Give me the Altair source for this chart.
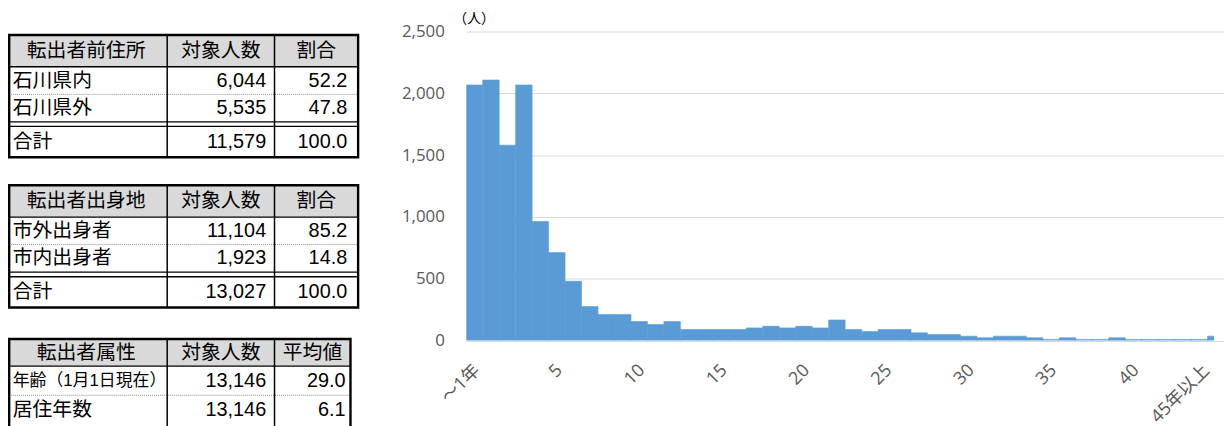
import altair as alt
import pandas as pd

# ---------------- data ----------------
years = ["～1年", "1", "2", "3", "4", "5", "6", "7", "8", "9", "10",
         "11", "12", "13", "14", "15", "16", "17", "18", "19", "20",
         "21", "22", "23", "24", "25", "26", "27", "28", "29", "30",
         "31", "32", "33", "34", "35", "36", "37", "38", "39", "40",
         "41", "42", "43", "44", "45年以上"]
counts = [2068, 2108, 1581, 2068, 964, 712, 480, 276, 212, 212,
          154, 130, 154, 90, 90, 90, 90, 103, 116, 103,
          116, 103, 167, 90, 74, 90, 90, 63, 50, 50,
          36, 23, 36, 36, 23, 10, 23, 10, 10, 23,
          10, 10, 10, 10, 10, 36]
y_ticks = [0, 500, 1000, 1500, 2000, 2500]
x_label_values = ["～1年", "5", "10", "15", "20", "25", "30", "35", "40", "45年以上"]
unit_label = "（人）"

t1_header = ["転出者前住所", "対象人数", "割合"]
t1_names = ["石川県内", "石川県外", "合計"]
t1_counts = ["6,044", "5,535", "11,579"]
t1_shares = ["52.2", "47.8", "100.0"]

t2_header = ["転出者出身地", "対象人数", "割合"]
t2_names = ["市外出身者", "市内出身者", "合計"]
t2_counts = ["11,104", "1,923", "13,027"]
t2_shares = ["85.2", "14.8", "100.0"]

t3_header = ["転出者属性", "対象人数", "平均値"]
t3_names = ["年齢（1月1日現在）", "居住年数"]
t3_counts = ["13,146", "13,146"]
t3_means = ["29.0", "6.1"]

# ---------------- layout ----------------
LW = 461.7      # left (table) panel width
PH = 333.6      # panel height
PW = 754.0      # visible plot width (keeps the page from overflowing)
BAND_RANGE = 764  # full extent of the 46 bars (last one runs off the page)
Y0, YTOP = 333.6, 22.0
CL, C1, C2 = 1.2, 160.5, 268.7
FONT = "Liberation Sans, Noto Sans CJK JP"
AXFONT = "Open Sans, Noto Sans CJK JP"

tables = [
    dict(header=t1_header, names=t1_names, c=t1_counts, v=t1_shares,
         top=25.5, hb=57.5, rows=[(57.5, 85.3), (85.3, 113.0), (117.7, 148.7)],
         dotted=[85.3], double=[113.0, 117.7], bottom=148.7, right=353.0,
         small=[]),
    dict(header=t2_header, names=t2_names, c=t2_counts, v=t2_shares,
         top=177.0, hb=209.0, rows=[(209.0, 236.8), (236.8, 264.5), (269.2, 300.2)],
         dotted=[236.8], double=[264.5, 269.2], bottom=300.2, right=353.0,
         small=[]),
    dict(header=t3_header, names=t3_names, c=t3_counts, v=t3_means,
         top=332.0, hb=359.3, rows=[(359.3, 388.7), (388.7, 418.7)],
         dotted=[388.7], double=[], bottom=425.0, right=345.3,
         small=[0]),
]

head_rects, outer_rects, solid, dotted_l, thin = [], [], [], [], []
txt_c, txt_l, txt_r = [], [], []
for t in tables:
    R = t["right"]
    head_rects.append(dict(x=CL, x2=R, y=t["top"], y2=t["hb"]))
    outer_rects.append(dict(x=CL, x2=R, y=t["top"], y2=t["bottom"]))
    for cx in (C1, C2):
        solid.append(dict(x=cx, x2=cx, y=t["top"], y2=t["bottom"]))
    thin.append(dict(x=CL, x2=R, y=t["hb"], y2=t["hb"]))
    for yy in t["dotted"]:
        dotted_l.append(dict(x=CL, x2=R, y=yy, y2=yy))
    for yy in t["double"]:
        thin.append(dict(x=CL, x2=R, y=yy, y2=yy))
    hy = (t["top"] + t["hb"]) / 2
    for cx, h in zip([(CL + C1) / 2 - 2, (C1 + C2) / 2, (C2 + R) / 2], t["header"]):
        txt_c.append(dict(x=cx, y=hy, text=h, fs=20))
    for i, (a, b) in enumerate(t["rows"]):
        ry = (a + b) / 2
        txt_l.append(dict(x=4.7, y=ry, text=t["names"][i], fs=17 if i in t["small"] else 20))
        txt_r.append(dict(x=C2 - 8.4, y=ry, text=t["c"][i], fs=20))
        txt_r.append(dict(x=R - 11 if R > 350 else R - 5, y=ry, text=t["v"][i], fs=20))

xs = alt.Scale(domain=[0, LW], range=[0, LW], nice=False, zero=False)
ys = alt.Scale(domain=[0, PH], range=[0, PH], nice=False, zero=False)


def enc_rect(ch):
    return ch.encode(x=alt.X("x:Q", scale=xs, axis=None), x2="x2:Q",
                     y=alt.Y("y:Q", scale=ys, axis=None), y2="y2:Q")


def enc_text(ch):
    return ch.encode(x=alt.X("x:Q", scale=xs, axis=None),
                     y=alt.Y("y:Q", scale=ys, axis=None),
                     text="text:N", size=alt.Size("fs:Q", scale=None, legend=None))


layers = [
    enc_rect(alt.Chart(pd.DataFrame(head_rects)).mark_rect(color="#D9D9D9")),
    enc_rect(alt.Chart(pd.DataFrame(dotted_l)).mark_rule(color="#8C8C8C", strokeWidth=1, strokeDash=[1, 1])),
    enc_rect(alt.Chart(pd.DataFrame(thin)).mark_rule(color="black", strokeWidth=1.3)),
    enc_rect(alt.Chart(pd.DataFrame(solid)).mark_rule(color="black", strokeWidth=1.5)),
    enc_rect(alt.Chart(pd.DataFrame(outer_rects)).mark_rect(fill="white", fillOpacity=0, stroke="black", strokeWidth=2.4)),
    enc_text(alt.Chart(pd.DataFrame(txt_c)).mark_text(align="center", baseline="middle", font=FONT, color="black")),
    enc_text(alt.Chart(pd.DataFrame(txt_l)).mark_text(align="left", baseline="middle", font=FONT, color="black")),
    enc_text(alt.Chart(pd.DataFrame(txt_r)).mark_text(align="right", baseline="middle", font=FONT, color="black")),
]
left = alt.layer(*layers).properties(width=LW, height=PH)

bar_df = pd.DataFrame({"year": years, "count": counts})
bars = alt.Chart(bar_df).mark_bar(color="#5B9BD5", stroke="#5B9BD5", strokeWidth=0.6, clip=True).encode(
    x=alt.X("year:N", sort=years, title=None,
            scale=alt.Scale(paddingInner=0, paddingOuter=0, range=[0, BAND_RANGE]),
            axis=alt.Axis(values=x_label_values, labelAngle=-45, labelAlign="right",
                          labelBaseline="middle", labelPadding=27,
                          labelOffset={"condition": {"test": "datum.value === '45年以上'", "value": -9}, "value": 3},
                          ticks=False,
                          domain=False, grid=False, labelFont=AXFONT, labelFontSize=18,
                          labelColor="#595959", labelOverlap=False)),
    y=alt.Y("count:Q", title=None,
            scale=alt.Scale(domain=[0, 2500], range=[Y0, YTOP], nice=False),
            axis=alt.Axis(values=y_ticks, labelExpr="format(datum.value, ',')", grid=True,
                          gridColor="#D9D9D9", gridWidth=1, ticks=False, domain=False,
                          labelPadding=22, labelFont=AXFONT, labelFontSize=17,
                          labelColor="#595959")),
)
unit = alt.Chart(pd.DataFrame({"t": [unit_label]})).mark_text(
    fontSize=14, font="Noto Sans CJK JP", color="black", align="center", baseline="middle"
).encode(text="t:N", x=alt.value(8), y=alt.value(9))
right = alt.layer(bars, unit).properties(width=PW, height=PH)

chart = alt.hconcat(left, right, spacing=0, bounds="flush").properties(
    padding=0
).configure_view(strokeOpacity=0)

chart.save("out.html", embed_options={"renderer": "svg", "actions": False})
